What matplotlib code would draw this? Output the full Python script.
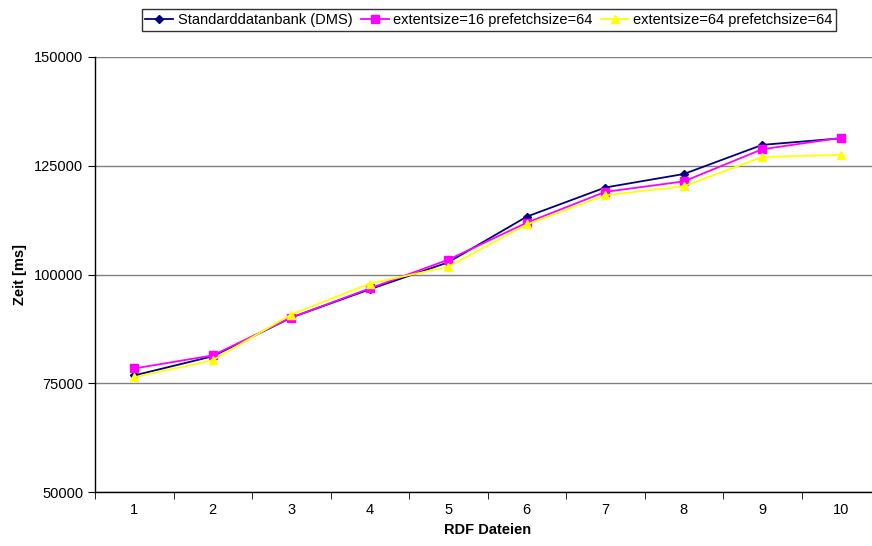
import numpy as np
import matplotlib.pyplot as plt

plt.rcParams['font.family'] = ['Liberation Sans', 'DejaVu Sans']

dateien = [1, 2, 3, 4, 5, 6, 7, 8, 9, 10]
dms = [76800, 81200, 90100, 96600, 102800, 113300, 120000, 123100, 129800, 131300]
ext16 = [78400, 81400, 90100, 96800, 103400, 111900, 119000, 121400, 128800, 131400]
ext64 = [76400, 80300, 90800, 97900, 101800, 111500, 118200, 120300, 127000, 127500]

fig = plt.figure(figsize=(8.72, 5.46), dpi=100)
ax = fig.add_axes([95 / 872, 54 / 546, 785 / 872, 435 / 546])

ax.plot(dateien, dms, color='#000080', marker='D', markersize=4.5, lw=1.3,
        label='Standarddatanbank (DMS)')
ax.plot(dateien, ext16, color='#FF00FF', marker='s', markersize=6, lw=1.3,
        label='extentsize=16 prefetchsize=64')
ax.plot(dateien, ext64, color='#FFFF00', marker='^', markersize=6, lw=1.3,
        label='extentsize=64 prefetchsize=64')

ax.set_xlim(0.5, 10.5)
ax.set_ylim(50000, 150000)
ax.set_yticks([50000, 75000, 100000, 125000, 150000])
ax.set_xticks(dateien)
ax.set_xticks(np.arange(0.5, 11, 1), minor=True)
ax.tick_params(axis='x', which='major', length=0, pad=8, labelsize=10.5)
ax.tick_params(axis='x', which='minor', length=5, direction='out')
ax.tick_params(axis='y', length=5, direction='out', labelsize=10.5)
ax.yaxis.grid(True, color='#808080', lw=1)
ax.set_axisbelow(True)
for s in ['top', 'right']:
    ax.spines[s].set_visible(False)
ax.spines['left'].set_linewidth(1)
ax.spines['bottom'].set_linewidth(1)

ax.set_xlabel('RDF Dateien', fontweight='bold', fontsize=10.5, labelpad=4)
ax.set_ylabel('Zeit [ms]', fontweight='bold', fontsize=10.5, labelpad=5)

leg = fig.legend(loc='center', bbox_to_anchor=(489 / 872, 1 - 20 / 546), ncol=3,
                 frameon=True, fancybox=False, edgecolor='black', fontsize=10.5,
                 handlelength=1.9, handletextpad=0.3, columnspacing=0.6,
                 borderpad=0.25, borderaxespad=0)
leg.get_frame().set_linewidth(1)

fig.savefig('out.png', dpi=100)
